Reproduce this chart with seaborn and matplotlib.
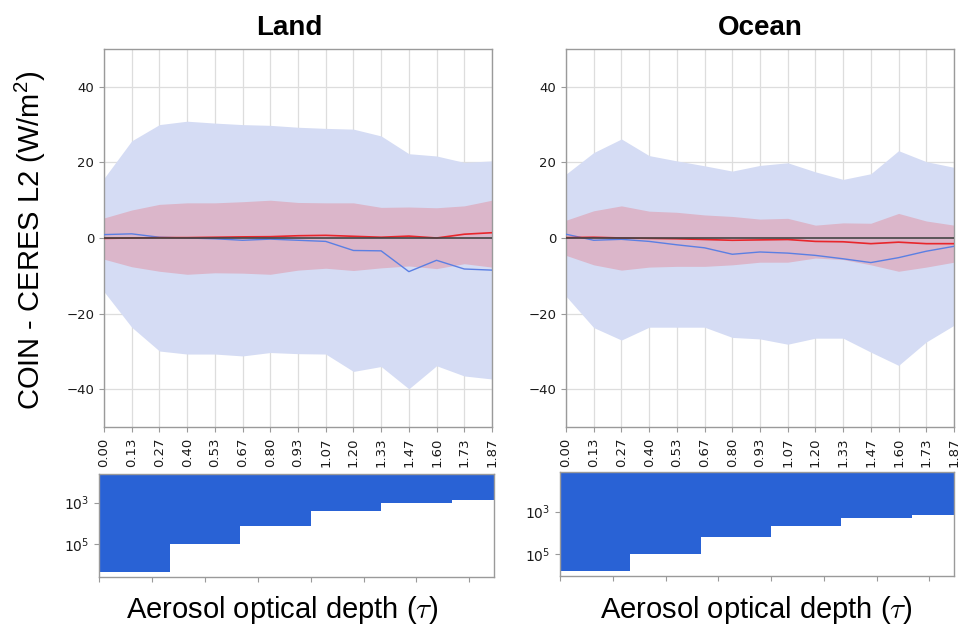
import numpy as np
import pandas as pd
import matplotlib
matplotlib.use("Agg")
import matplotlib.pyplot as plt
from matplotlib.ticker import FormatStrFormatter, NullFormatter, MultipleLocator
import seaborn as sns

# Aerosol optical depth bins (x positions of the profiles)
aod = [0.0, 0.1333, 0.2667, 0.4, 0.5333, 0.6667, 0.8, 0.9333,
       1.0667, 1.2, 1.3333, 1.4667, 1.6, 1.7333, 1.8667]

# Land: mean differences and spread bands (W/m^2)
land_blue_mean = [0.9, 1.1, 0.2, 0.0, -0.2, -0.6, -0.3, -0.6, -0.9, -3.3, -3.4, -8.9, -5.9, -8.2, -8.5]
land_blue_hi = [15.8, 25.7, 30.0, 30.9, 30.4, 30.0, 29.8, 29.3, 29.0, 28.8, 27.0, 22.3, 21.7, 20.0, 20.4]
land_blue_lo = [-14.2, -23.6, -29.9, -30.7, -30.7, -31.2, -30.3, -30.6, -30.7, -35.3, -34.0, -39.9, -33.8, -36.5, -37.3]
land_red_mean = [-0.1, 0.0, 0.1, 0.1, 0.2, 0.3, 0.35, 0.6, 0.7, 0.45, 0.2, 0.5, 0.0, 1.0, 1.4]
land_red_hi = [5.3, 7.4, 8.9, 9.3, 9.3, 9.6, 10.0, 9.4, 9.3, 9.3, 8.1, 8.2, 8.0, 8.5, 10.0]
land_red_lo = [-5.6, -7.6, -8.8, -9.6, -9.2, -9.3, -9.6, -8.5, -8.0, -8.6, -7.9, -7.4, -8.1, -6.8, -7.7]

# Ocean: mean differences and spread bands (W/m^2)
ocean_blue_mean = [1.0, -0.6, -0.35, -0.9, -1.8, -2.6, -4.3, -3.7, -4.0, -4.6, -5.5, -6.5, -5.2, -3.5, -2.2]
ocean_blue_hi = [16.9, 22.6, 26.2, 21.8, 20.4, 19.1, 17.7, 19.2, 19.9, 17.5, 15.5, 17.0, 23.1, 20.2, 18.7]
ocean_blue_lo = [-15.4, -23.7, -27.0, -23.6, -23.6, -23.6, -26.3, -26.7, -28.1, -26.5, -26.5, -30.2, -33.7, -27.5, -23.1]
ocean_red_mean = [0.1, 0.2, 0.0, -0.1, -0.2, -0.4, -0.6, -0.5, -0.4, -0.9, -1.0, -1.5, -1.1, -1.5, -1.5]
ocean_red_hi = [4.7, 7.2, 8.5, 7.1, 6.8, 6.1, 5.7, 5.0, 5.2, 3.4, 4.0, 3.9, 6.5, 4.5, 3.4]
ocean_red_lo = [-4.6, -7.1, -8.5, -7.7, -7.5, -7.5, -7.1, -6.4, -6.4, -5.3, -5.7, -7.1, -8.8, -7.7, -6.4]

# Sample counts per coarse AOD bin
hist_edges = [0.0, 0.3333, 0.6667, 1.0, 1.3333, 1.6667, 2.0]
land_counts = [2.3e6, 1.0e5, 1.35e4, 2.6e3, 1.1e3, 7.8e2]
ocean_counts = [6.0e5, 1.0e5, 1.6e4, 4.6e3, 2.0e3, 1.4e3]

sns.set_theme(style="whitegrid")
plt.rcParams.update({
    "axes.edgecolor": "#9a9a9a",
    "axes.linewidth": 1.0,
    "grid.color": "#dddddd",
    "grid.linewidth": 0.9,
    "xtick.bottom": True,
    "ytick.left": True,
    "xtick.color": "#9a9a9a",
    "ytick.color": "#9a9a9a",
    "xtick.labelcolor": "#1a1a1a",
    "ytick.labelcolor": "#1a1a1a",
    "xtick.major.size": 3.5,
    "ytick.major.size": 3.5,
    "xtick.major.width": 0.8,
    "ytick.major.width": 0.8,
    "xtick.labelsize": 9.5,
    "ytick.labelsize": 9.5,
    "text.color": "black",
})
plt.rcParams["font.family"] = ["DejaVu Sans"]

fig = plt.figure(figsize=(9.6, 6.26), dpi=100)
W, H = 960.0, 626.0


def box(l, t, r, b):
    return [l / W, 1 - b / H, (r - l) / W, (b - t) / H]


ax_land = fig.add_axes(box(104, 49, 492, 427))
ax_ocean = fig.add_axes(box(566, 49, 954, 427))
hx_land = fig.add_axes(box(99, 474, 494, 577))
hx_ocean = fig.add_axes(box(560, 472, 954, 576))

BLUE_FILL = "#d5dcf4"
RED_FILL = "#dbb6ca"
BLUE_LINE = "#5b7fe3"
RED_LINE = "#e8262c"
HIST_BLUE = "#2962d5"

panels = [
    (ax_land, "Land", 0.477, land_blue_mean, land_blue_hi, land_blue_lo,
     land_red_mean, land_red_hi, land_red_lo),
    (ax_ocean, "Ocean", 0.5, ocean_blue_mean, ocean_blue_hi, ocean_blue_lo,
     ocean_red_mean, ocean_red_hi, ocean_red_lo),
]

for ax, title, tx, bm, bh, bl, rm, rh, rl in panels:
    df = pd.DataFrame({"aod": aod, "blue": bm, "red": rm})
    ax.fill_between(aod, bl, bh, color=BLUE_FILL, linewidth=0, zorder=1)
    ax.fill_between(aod, rl, rh, color=RED_FILL, linewidth=0, zorder=2)
    sns.lineplot(data=df, x="aod", y="blue", ax=ax, color=BLUE_LINE, linewidth=1.0, zorder=3)
    sns.lineplot(data=df, x="aod", y="red", ax=ax, color=RED_LINE, linewidth=1.2, zorder=4)
    ax.axhline(0, color="#444444", linewidth=1.2, zorder=5)
    ax.set_xlim(aod[0], aod[-1])
    ax.set_ylim(-50, 50)
    ax.set_xticks(aod)
    ax.xaxis.set_major_formatter(FormatStrFormatter("%.2f"))
    ax.tick_params(axis="x", rotation=90, pad=4)
    ax.set_yticks([-40, -20, 0, 20, 40])
    ax.set_xlabel("")
    ax.set_ylabel("")
    ax.set_axisbelow(True)
    ax.set_title(title, fontsize=20, fontweight="bold", family="Liberation Sans",
                 color="black", pad=10, x=tx)

for hx, counts, ylim in [(hx_land, land_counts, (4.0e6, 41)),
                         (hx_ocean, ocean_counts, (1.05e6, 14))]:
    lefts = hist_edges[:-1]
    widths = np.diff(hist_edges)
    hx.bar(lefts, counts, width=widths, align="edge", color=HIST_BLUE,
           linewidth=0, bottom=0)
    hx.set_yscale("log")
    hx.set_ylim(*ylim)
    hx.set_xlim(0, aod[-1])
    hx.grid(False)
    hx.set_yticks([1e3, 1e5])
    hx.yaxis.set_minor_locator(plt.NullLocator())
    hx.xaxis.set_major_locator(MultipleLocator(0.25))
    hx.xaxis.set_major_formatter(NullFormatter())
    hx.tick_params(axis="y", labelsize=10)

fig.text(30 / W, 1 - 240 / H, r"COIN - CERES L2 (W/m$\mathregular{^2}$)", rotation=90,
         ha="center", va="center", fontsize=21, family="Liberation Sans")
for cx in (282, 756):
    fig.text(cx / W, 1 - 610 / H, r"Aerosol optical depth ($\tau$)", ha="center", va="center",
             fontsize=21, family="Liberation Sans", math_fontfamily="cm")

fig.savefig("out.png", dpi=100)
